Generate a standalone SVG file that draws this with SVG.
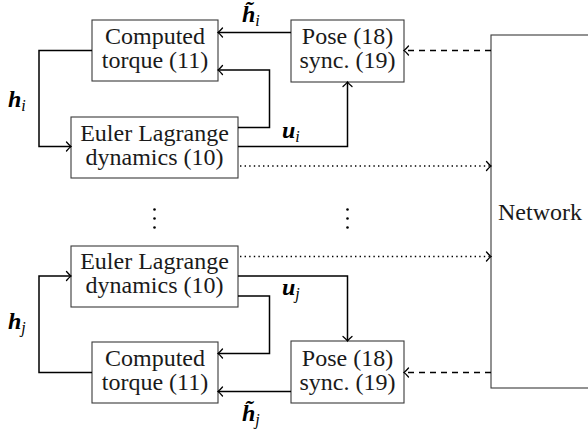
<svg xmlns="http://www.w3.org/2000/svg" width="588" height="432" viewBox="0 0 588 432">
  <style>
    .box { fill: #ffffff; stroke: #3a3a3a; stroke-width: 1.1; }
    .wire { fill: none; stroke: #000000; stroke-width: 1.5; }
    .dot { fill: none; stroke: #000000; stroke-width: 1.4; stroke-dasharray: 1.4 3.2; }
    .dash { fill: none; stroke: #000000; stroke-width: 1.5; stroke-dasharray: 6 5; }
    .vdots { fill: #000000; }
  </style>
  <defs>
    <marker id="to" viewBox="-6 -6 8 12" markerWidth="8" markerHeight="12" refX="0" refY="0" orient="auto" markerUnits="userSpaceOnUse">
      <path d="M -4.5 -4.5 Q -1.5 -1 0 0 Q -1.5 1 -4.5 4.5" fill="none" stroke="#000" stroke-width="1.3" stroke-linecap="round"/>
    </marker>
  </defs>

  <!-- network block (extends past the right edge) -->
  <g id="network">
    <rect class="box" x="491" y="35" width="130" height="353"/>
    <text x="498" y="220" font-family="Liberation Serif" font-size="24" fill="#1a1a1a">Network</text>
  </g>

  <!-- agent i -->
  <g id="ct-i">
    <rect class="box" x="92" y="20" width="126" height="61"/>
    <text x="155" y="44" font-family="Liberation Serif" font-size="24" fill="#1a1a1a" text-anchor="middle">Computed</text>
    <text x="155" y="68" font-family="Liberation Serif" font-size="24" fill="#1a1a1a" text-anchor="middle">torque (11)</text>
  </g>
  <g id="el-i">
    <rect class="box" x="71" y="117" width="167" height="61"/>
    <text x="154.5" y="141" font-family="Liberation Serif" font-size="24" fill="#1a1a1a" text-anchor="middle">Euler Lagrange</text>
    <text x="154.5" y="165" font-family="Liberation Serif" font-size="24" fill="#1a1a1a" text-anchor="middle">dynamics (10)</text>
  </g>
  <g id="pose-i">
    <rect class="box" x="291" y="20" width="113" height="62"/>
    <text x="347.5" y="44" font-family="Liberation Serif" font-size="24" fill="#1a1a1a" text-anchor="middle">Pose (18)</text>
    <text x="347.5" y="68" font-family="Liberation Serif" font-size="24" fill="#1a1a1a" text-anchor="middle">sync. (19)</text>
  </g>

  <!-- agent j -->
  <g id="el-j">
    <rect class="box" x="71" y="246" width="167" height="61"/>
    <text x="154.5" y="269" font-family="Liberation Serif" font-size="24" fill="#1a1a1a" text-anchor="middle">Euler Lagrange</text>
    <text x="154.5" y="293" font-family="Liberation Serif" font-size="24" fill="#1a1a1a" text-anchor="middle">dynamics (10)</text>
  </g>
  <g id="ct-j">
    <rect class="box" x="92" y="342" width="126" height="61"/>
    <text x="155" y="366" font-family="Liberation Serif" font-size="24" fill="#1a1a1a" text-anchor="middle">Computed</text>
    <text x="155" y="390" font-family="Liberation Serif" font-size="24" fill="#1a1a1a" text-anchor="middle">torque (11)</text>
  </g>
  <g id="pose-j">
    <rect class="box" x="291" y="341" width="113" height="62"/>
    <text x="347.5" y="366" font-family="Liberation Serif" font-size="24" fill="#1a1a1a" text-anchor="middle">Pose (18)</text>
    <text x="347.5" y="390" font-family="Liberation Serif" font-size="24" fill="#1a1a1a" text-anchor="middle">sync. (19)</text>
  </g>

  <!-- vertical ellipses between the agents -->
  <g id="ellipsis">
    <circle class="vdots" cx="154.5" cy="209.5" r="1.3"/>
    <circle class="vdots" cx="154.5" cy="218.5" r="1.3"/>
    <circle class="vdots" cx="154.5" cy="227.5" r="1.3"/>
    <circle class="vdots" cx="347.5" cy="209.5" r="1.3"/>
    <circle class="vdots" cx="347.5" cy="218.5" r="1.3"/>
    <circle class="vdots" cx="347.5" cy="227.5" r="1.3"/>
  </g>

  <g id="connectors">
    <!-- agent i -->
    <path class="wire" d="M 291 32.5 H 218" marker-end="url(#to)"/>
    <path class="wire" d="M 238 127.5 H 269.5 V 70 H 218" marker-end="url(#to)"/>
    <path class="wire" d="M 92 50.5 H 39 V 146.5 H 71" marker-end="url(#to)"/>
    <path class="wire" d="M 238 146.5 H 347.5 V 82" marker-end="url(#to)"/>
    <path class="dot" d="M 240 166 H 491" marker-end="url(#to)"/>
    <path class="dash" d="M 491 50.5 H 404" marker-end="url(#to)"/>
    <!-- agent j -->
    <path class="dot" d="M 240 256.5 H 491" marker-end="url(#to)"/>
    <path class="wire" d="M 238 276 H 347.5 V 341" marker-end="url(#to)"/>
    <path class="wire" d="M 238 296 H 269.5 V 353.5 H 218" marker-end="url(#to)"/>
    <path class="wire" d="M 291 391.5 H 218" marker-end="url(#to)"/>
    <path class="wire" d="M 92 372.5 H 39 V 276 H 71" marker-end="url(#to)"/>
    <path class="dash" d="M 491 372.5 H 404" marker-end="url(#to)"/>

    <!-- signal labels -->
    <text x="242" y="22" font-family="Liberation Serif" font-size="24" font-weight="bold" font-style="italic">h̃<tspan font-size="16" font-weight="normal" dy="4">i</tspan></text>
    <text x="8" y="107" font-family="Liberation Serif" font-size="24" font-weight="bold" font-style="italic">h<tspan font-size="16" font-weight="normal" dy="4">i</tspan></text>
    <text x="282" y="138" font-family="Liberation Serif" font-size="24" font-weight="bold" font-style="italic">u<tspan font-size="16" font-weight="normal" dy="4">i</tspan></text>
    <text x="282" y="295" font-family="Liberation Serif" font-size="24" font-weight="bold" font-style="italic">u<tspan font-size="16" font-weight="normal" dy="4">j</tspan></text>
    <text x="8" y="329" font-family="Liberation Serif" font-size="24" font-weight="bold" font-style="italic">h<tspan font-size="16" font-weight="normal" dy="4">j</tspan></text>
    <text x="242" y="421" font-family="Liberation Serif" font-size="24" font-weight="bold" font-style="italic">h̃<tspan font-size="16" font-weight="normal" dy="4">j</tspan></text>
  </g>
</svg>
